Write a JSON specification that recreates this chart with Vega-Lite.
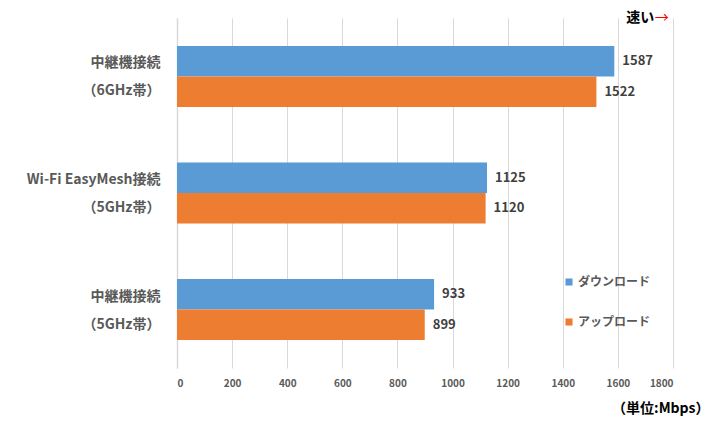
{
  "$schema": "https://vega.github.io/schema/vega-lite/v6.json",
  "width": 496,
  "height": 350,
  "autosize": {"type": "none"},
  "padding": {"left": 177, "top": 18, "right": 38, "bottom": 65},
  "background": "white",
  "config": {
    "view": {"stroke": null},
    "font": "Noto Sans CJK JP"
  },
  "data": {
    "values": [
      {"cat": "中継機接続|（6GHz帯）", "series": "ダウンロード", "mbps": 1587},
      {"cat": "中継機接続|（6GHz帯）", "series": "アップロード", "mbps": 1522},
      {"cat": "Wi-Fi EasyMesh接続|（5GHz帯）", "series": "ダウンロード", "mbps": 1125},
      {"cat": "Wi-Fi EasyMesh接続|（5GHz帯）", "series": "アップロード", "mbps": 1120},
      {"cat": "中継機接続|（5GHz帯） ", "series": "ダウンロード", "mbps": 933},
      {"cat": "中継機接続|（5GHz帯） ", "series": "アップロード", "mbps": 899}
    ]
  },
  "encoding": {
    "y": {
      "field": "cat",
      "type": "nominal",
      "sort": null,
      "scale": {"paddingInner": 0.477, "paddingOuter": 0.24},
      "axis": {
        "title": null,
        "labelExpr": "split(trim(datum.label), '|')",
        "labelFont": "Noto Sans CJK JP",
        "labelFontSize": 14,
        "labelFontWeight": "bold",
        "labelColor": "#595959",
        "labelLineHeight": 28,
        "labelPadding": 17,
        "labelAlign": "right",
        "labelBaseline": "middle",
        "labelOffset": -13,
        "ticks": false,
        "domainColor": "#d9d9d9",
        "domainWidth": 1.5,
        "grid": false
      }
    }
  },
  "layer": [
    {
      "mark": {"type": "bar"},
      "encoding": {
        "x": {
          "field": "mbps",
          "type": "quantitative",
          "scale": {"domain": [0, 1800], "nice": false},
          "axis": {
            "values": [0, 200, 400, 600, 800, 1000, 1200, 1400, 1600, 1800],
            "format": "d",
            "grid": true,
            "gridColor": "#d9d9d9",
            "domain": false,
            "ticks": false,
            "labelFontSize": 10,
            "labelColor": "#595959",
            "labelFontWeight": "bold",
            "labelPadding": 10,
            "title": "（単位:Mbps）",
            "titleFontSize": 14,
            "titleFontWeight": "bold",
            "titleColor": "#000000",
            "titleAnchor": "end",
            "titleAlign": "right",
            "titleX": 532,
            "titleY": 40,
            "titleBaseline": "middle"
          }
        },
        "yOffset": {"field": "series", "type": "nominal", "sort": ["ダウンロード", "アップロード"], "scale": {"paddingInner": 0, "paddingOuter": 0}},
        "color": {
          "field": "series",
          "type": "nominal",
          "sort": ["ダウンロード", "アップロード"],
          "scale": {"domain": ["ダウンロード", "アップロード"], "range": ["#5B9BD5", "#ED7D31"]},
          "legend": {
            "title": null,
            "orient": "none",
            "legendX": 386,
            "legendY": 258,
            "symbolType": "square",
            "symbolSize": 50,
            "symbolStrokeWidth": 0,
            "labelFontSize": 12,
            "labelColor": "#595959",
            "labelFontWeight": "bold",
            "labelOffset": 3,
            "rowPadding": 28
          }
        }
      }
    },
    {
      "mark": {"type": "text", "align": "left", "baseline": "middle", "dx": 8, "fontSize": 13, "fontWeight": "bold", "color": "#404040"},
      "encoding": {
        "x": {"field": "mbps", "type": "quantitative"},
        "yOffset": {"field": "series", "type": "nominal", "sort": ["ダウンロード", "アップロード"]},
        "text": {"field": "mbps", "type": "quantitative"}
      }
    },
    {
      "data": {"values": [{"cat": "中継機接続|（6GHz帯）", "note": "速い", "pos": 1630}]},
      "mark": {"type": "text", "align": "left", "baseline": "middle", "dy": -58, "fontSize": 14, "fontWeight": "bold", "color": "#000000"},
      "encoding": {
        "x": {"field": "pos", "type": "quantitative"},
        "text": {"field": "note"}
      }
    },
    {
      "data": {"values": [{"cat": "中継機接続|（6GHz帯）", "note": "→", "pos": 1734}]},
      "mark": {"type": "text", "align": "left", "baseline": "middle", "dy": -58, "fontSize": 14, "fontWeight": "normal", "color": "#FF0000"},
      "encoding": {
        "x": {"field": "pos", "type": "quantitative"},
        "text": {"field": "note"}
      }
    }
  ]
}
